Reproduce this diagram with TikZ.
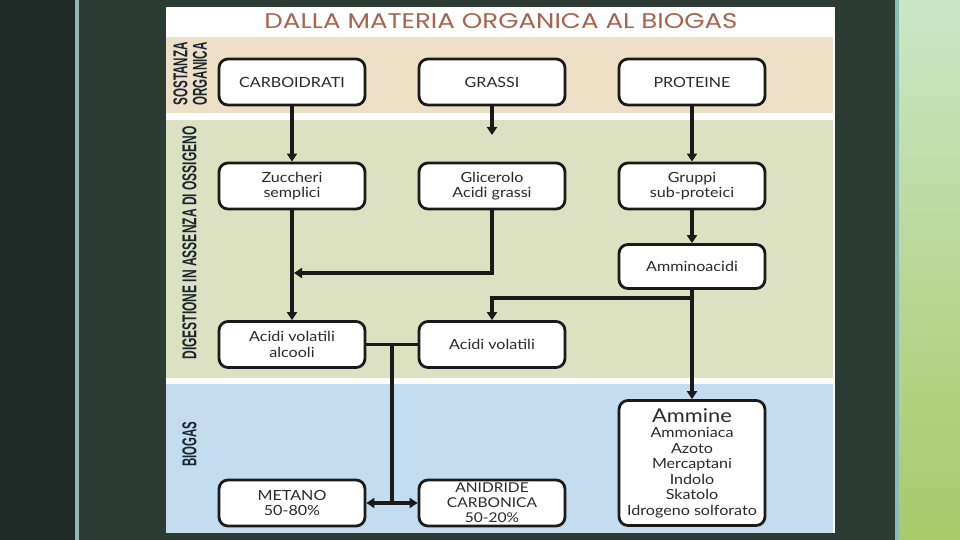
\documentclass[tikz,border=0pt]{standalone}
\usepackage{fontspec}
\setmainfont{Lato}[FakeStretch=1.15]
\newfontfamily\titlef{Poppins}
\newfontfamily\labf{Liberation Sans}
\usetikzlibrary{arrows.meta}
\definecolor{darkL}{HTML}{1D2A26}
\definecolor{darkM}{HTML}{2C3B33}
\definecolor{tealL}{HTML}{8CBAB6}
\definecolor{beige}{HTML}{EDE0C7}
\definecolor{sage}{HTML}{DCE2C1}
\definecolor{skyb}{HTML}{C3DCF0}
\definecolor{titlec}{HTML}{A8644C}
\definecolor{labc}{HTML}{1C2630}
\definecolor{gtop}{HTML}{C9E7C6}
\definecolor{gbot}{HTML}{A6CB68}
\definecolor{ink}{HTML}{1A1A1A}
\definecolor{txt}{HTML}{2A2A2A}
\tikzset{
  box/.style={draw=ink, line width=2.8pt, rounded corners=9pt, fill=white,
    minimum width=146pt, minimum height=46pt, inner sep=0pt, align=center,
    text=txt, font=\fontsize{14}{15.5}\selectfont},
  conn/.style={draw=ink, line width=3.6pt, -{Triangle[width=10pt,length=8pt]}},
  plain/.style={draw=ink, line width=3.6pt},
  sidelab/.style={rotate=90, inner sep=0pt, text=labc}
}
\begin{document}
\begin{tikzpicture}[x=1pt,y=-1pt]
\useasboundingbox (0,0) rectangle (960,540);
% background
\fill[darkL] (0,0) rectangle (75,540);
\fill[tealL] (75,0) rectangle (79,540);
\fill[darkM] (79,0) rectangle (895,540);
\fill[tealL] (895,0) rectangle (899,540);
\shade[top color=gtop, bottom color=gbot] (899,0) rectangle (960,540);
% panel
\fill[white] (166,7) rectangle (835,533);
\fill[beige] (166,37) rectangle (833,113);
\fill[sage] (166,120) rectangle (833,378);
\fill[skyb] (166,384) rectangle (833,533);
% title
\node[inner sep=0pt, text=titlec] (title) at (501,21)
  {\resizebox{473pt}{15pt}{\titlef DALLA MATERIA ORGANICA AL BIOGAS}};
% side labels
\node[sidelab] (lab1) at (180.5,74) {\resizebox{63pt}{14pt}{\labf\bfseries SOSTANZA}};
\node[sidelab] (lab2) at (200,74) {\resizebox{63pt}{14pt}{\labf\bfseries ORGANICA}};
\node[sidelab] (lab3) at (189.5,243) {\resizebox{233pt}{14pt}{\labf\bfseries DIGESTIONE IN ASSENZA DI OSSIGENO}};
\node[sidelab] (lab4) at (189.5,444) {\resizebox{45pt}{14pt}{\labf\bfseries BIOGAS}};
% boxes
\node[box] (carbo) at (292,82) {CARBOIDRATI};
\node[box] (grassi) at (492,82) {GRASSI};
\node[box] (prot) at (692,82) {PROTEINE};
\node[box] (zucc) at (292,186) {Zuccheri\\semplici};
\node[box] (glic) at (492,186) {Glicerolo\\Acidi grassi};
\node[box] (grup) at (692,186) {Gruppi\\sub-proteici};
\node[box, minimum height=44pt] (amino) at (692,266.5) {Amminoacidi};
\node[box] (avol1) at (292,344.5) {Acidi volatili\\alcooli};
\node[box] (avol2) at (492,344.5) {Acidi volatili};
\node[box, minimum height=125pt, font=\fontsize{14}{15.5}\selectfont] (ammine) at (692,463)
  {{\fontsize{19}{16}\selectfont Ammine}\\Ammoniaca\\Azoto\\Mercaptani\\Indolo\\Skatolo\\Idrogeno solforato};
\node[box] (metano) at (292,503) {METANO\\50-80\%};
\node[box, font=\fontsize{13.5}{15}\selectfont] (anid) at (492,503) {ANIDRIDE\\CARBONICA\\50-20\%};
% connectors
\coordinate (gend) at (492,135);
\coordinate (j1) at (294,273);
\coordinate (b1) at (692,298);
\coordinate (j2) at (392,344.5);
\coordinate (j3) at (392,503);
\draw[conn] (carbo) -- (zucc);
\draw[conn] (grassi) -- (gend);
\draw[conn] (prot) -- (grup);
\draw[conn] (grup) -- (amino);
\draw[conn] (zucc) -- (avol1);
\draw[conn] (glic.south) |- (j1);
\draw[conn] (amino) -- (ammine);
\draw[conn] (b1) -| (avol2);
\draw[plain] (avol1) -- (avol2);
\draw[plain] (j2) -- (j3);
\draw[conn] (j3) -- (metano);
\draw[conn] (j3) -- (anid);
\end{tikzpicture}
\end{document}
